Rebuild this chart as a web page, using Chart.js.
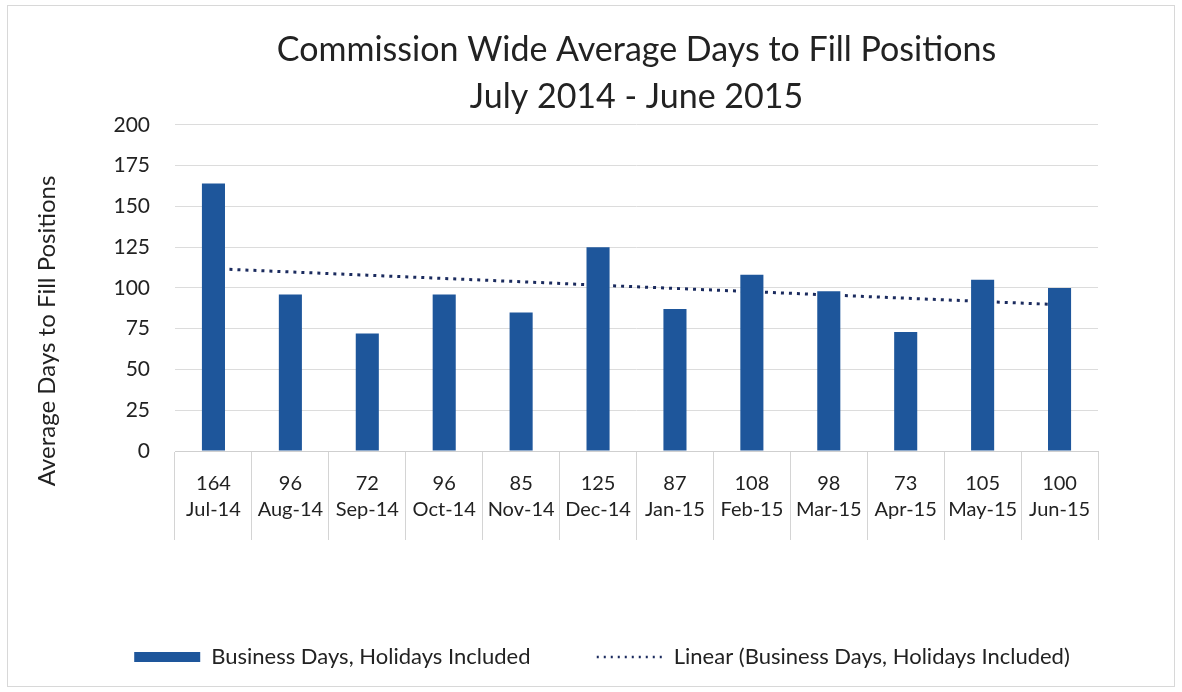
<!DOCTYPE html>
<html>
<head>
<meta charset="utf-8">
<script src="https://cdn.jsdelivr.net/npm/chart.js@4/dist/chart.umd.min.js"></script>
<style>
  html, body { margin: 0; padding: 0; background: #fff; }
  #wrap { position: relative; width: 1182px; height: 692px; }
  #frame { position: absolute; left: 7px; top: 5px; width: 1166px; height: 680px; border: 1px solid #d8d8d8; pointer-events: none; }
</style>
</head>
<body>
<div id="wrap">
  <canvas id="chart"></canvas>
  <div id="frame"></div>
</div>
<script>
const months = ['Jul-14', 'Aug-14', 'Sep-14', 'Oct-14', 'Nov-14', 'Dec-14',
  'Jan-15', 'Feb-15', 'Mar-15', 'Apr-15', 'May-15', 'Jun-15'];
const businessDays = [164, 96, 72, 96, 85, 125, 87, 108, 98, 73, 105, 100];
// trend line
const linearTrend = [111.8, 109.8, 107.8, 105.8, 103.8, 101.7, 99.7, 97.7, 95.7, 93.7, 91.7, 89.7];
const yTicks = [0, 25, 50, 75, 100, 125, 150, 175, 200];

const font = 'Lato, "Open Sans", sans-serif';
const textColor = '#222';
const nbsp = n => '\u00A0'.repeat(n);

// data table under the plot: value row + month row
const tableLabels = months.map((m, i) => [String(businessDays[i]), m]);

new Chart(document.getElementById('chart'), {
  data: {
    labels: tableLabels,
    datasets: [
      {
        type: 'bar',
        label: 'Business Days, Holidays Included',
        data: businessDays,
        backgroundColor: '#1e569b',
        borderWidth: 0,
        categoryPercentage: 1,
        barPercentage: 0.3,
        order: 1
      },
      {
        type: 'line',
        label: 'Linear (Business Days, Holidays Included)',
        data: linearTrend,
        borderColor: '#1b2b5e',
        backgroundColor: '#1b2b5e',
        borderWidth: 3,
        borderDash: [3, 5],
        pointRadius: 0,
        pointStyle: 'line',
        tension: 0,
        order: 2
      }
    ]
  },
  options: {
    responsive: true,
    maintainAspectRatio: false,
    animation: false,
    // left padding keeps the bottom legend centred like the original
    layout: { padding: { top: 27, right: 84, bottom: 14, left: 106 } },
    plugins: {
      title: {
        display: true,
        text: ['Commission Wide Average Days to Fill Positions', 'July 2014 - June 2015'],
        fullSize: false,
        color: textColor,
        font: { family: font, size: 34, weight: 'normal', lineHeight: 1.38 },
        padding: { top: 0, bottom: 4 }
      },
      legend: {
        position: 'bottom',
        labels: {
          usePointStyle: true,
          pointStyleWidth: 66,
          boxHeight: 10,
          padding: 10,
          color: textColor,
          font: { family: font, size: 22 },
          generateLabels(chart) {
            const items = Chart.defaults.plugins.legend.labels.generateLabels(chart);
            items[0].pointStyle = 'rect';
            items[0].lineWidth = 0;
            items[0].text += nbsp(10);
            items[1].lineWidth = 2.5;
            items[1].lineDash = [2, 5];
            return items;
          }
        }
      },
      tooltip: { enabled: false }
    },
    scales: {
      x: {
        offset: true,
        grid: {
          drawOnChartArea: false,
          drawTicks: true,
          tickLength: 89,
          color: '#d4d4d4'
        },
        border: { display: true, color: '#cfcfcf' },
        ticks: {
          color: textColor,
          font: { family: font, size: 20, lineHeight: 1.28 },
          padding: -69,
          maxRotation: 0,
          autoSkip: false
        },
        afterFit(scale) { scale.height = 185; }
      },
      y: {
        min: 0,
        max: 200,
        afterBuildTicks(scale) { scale.ticks = yTicks.map(v => ({ value: v })); },
        grid: { color: '#dcdcdc', drawTicks: false },
        border: { display: false },
        ticks: {
          color: textColor,
          font: { family: font, size: 21 },
          padding: 25
        },
        title: {
          display: true,
          text: 'Average Days to Fill Positions' + nbsp(14),
          color: textColor,
          font: { family: font, size: 24 },
          padding: { top: -73, bottom: 0 }
        },
        afterFit(scale) { scale.width = 69; }
      }
    }
  }
});
</script>
</body>
</html>
